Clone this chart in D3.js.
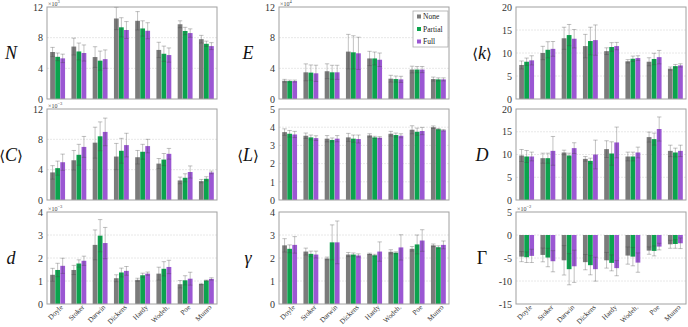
<!DOCTYPE html>
<html><head><meta charset="utf-8">
<script src="https://cdn.jsdelivr.net/npm/d3@7"></script>
<style>body{margin:0;background:#fff}svg{display:block}</style>
</head><body>
<svg id="c" width="688" height="327"></svg>
<script>
const categories = ["Doyle","Stoker","Darwin","Dickens","Hardy","Wodeh.","Poe","Munro"];
const seriesNames = ["None","Partial","Full"];
const colors = ["#7b7b7b","#0ca34e","#9b57d3"];

// values [None, Partial, Full] per category; errors are half-widths
const N_val = [[6.13,5.5,5.3],[6.84,6.2,6.0],[5.47,5.0,5.2],[10.5,9.35,9.0],[10.2,9.2,8.9],[6.4,5.9,5.73],[9.75,8.87,8.6],[7.8,7.2,6.9]];
const N_err = [[0.6,0.5,0.55],[1.1,1.1,1.05],[1.35,1.25,1.2],[1.45,1.25,1.1],[1.2,1.0,1.05],[1.0,1.0,0.93],[0.45,0.48,0.55],[0.5,0.35,0.45]];
const E_val = [[2.38,2.34,2.34],[3.48,3.44,3.35],[3.62,3.48,3.48],[6.18,6.09,5.96],[5.29,5.29,5.12],[2.65,2.6,2.56],[3.84,3.84,3.84],[2.6,2.56,2.56]];
const E_err = [[0.18,0.13,0.13],[1.1,1.0,1.06],[0.97,0.92,0.92],[2.25,2.16,2.1],[0.93,0.84,0.88],[0.44,0.4,0.4],[0.44,0.4,0.4],[0.26,0.2,0.2]];
const k_val = [[7.4,8.1,8.4],[10.0,10.7,10.9],[13.2,13.9,13.1],[11.5,12.6,12.8],[10.4,11.3,11.5],[8.2,8.75,8.9],[8.1,8.7,9.1],[6.6,7.15,7.3]];
const k_err = [[0.87,0.8,1.0],[1.45,1.75,1.6],[2.4,2.3,2.0],[2.55,3.0,3.3],[0.73,0.95,0.8],[0.36,0.58,0.5],[0.87,1.24,1.46],[0.36,0.36,0.36]];
const C_val = [[3.64,4.2,4.98],[5.24,5.96,7.0],[7.56,8.4,8.98],[5.73,6.49,7.24],[5.64,6.36,7.11],[4.8,5.33,6.09],[2.58,2.93,3.69],[2.49,2.8,3.64]];
const C_err = [[0.89,0.93,1.07],[1.29,1.38,1.38],[2.04,1.9,1.82],[1.73,1.64,1.56],[0.89,0.98,0.89],[0.67,0.8,0.71],[0.44,0.53,0.8],[0.22,0.27,0.18]];
const L_val = [[3.73,3.64,3.6],[3.53,3.44,3.4],[3.37,3.3,3.37],[3.44,3.37,3.35],[3.55,3.44,3.42],[3.64,3.57,3.53],[3.86,3.75,3.79],[4.0,3.89,3.83]];
const L_err = [[0.18,0.18,0.17],[0.15,0.13,0.13],[0.17,0.11,0.17],[0.22,0.2,0.22],[0.09,0.06,0.06],[0.13,0.11,0.11],[0.22,0.2,0.2],[0.07,0.04,0.04]];
const D_val = [[9.78,9.56,9.56],[9.19,9.19,10.8],[10.44,9.78,11.4],[9.04,8.6,10.0],[11.18,10.22,12.65],[9.56,9.56,10.44],[13.82,13.38,15.6],[10.8,10.44,10.8]];
const D_err = [[1.32,1.32,0.96],[1.1,1.1,3.16],[0.51,0.51,1.18],[0.51,0.59,3.16],[1.84,2.57,3.38],[0.96,0.96,1.18],[1.1,1.32,2.65],[1.25,0.96,1.25]];
const d_val = [[1.27,1.48,1.66],[1.48,1.76,1.88],[2.57,2.97,2.65],[1.12,1.37,1.44],[1.05,1.25,1.32],[1.32,1.53,1.61],[0.86,1.03,1.1],[0.87,1.02,1.09]];
const d_err = [[0.28,0.29,0.33],[0.2,0.16,0.2],[0.65,0.7,0.68],[0.15,0.19,0.19],[0.07,0.09,0.07],[0.28,0.31,0.29],[0.16,0.2,0.28],[0.03,0.02,0.05]];
const g_val = [[2.55,2.4,2.57],[2.28,2.18,2.15],[1.98,2.68,2.68],[2.15,2.15,2.11],[2.18,2.12,2.28],[2.27,2.23,2.46],[2.4,2.59,2.76],[2.55,2.47,2.57]];
const g_err = [[0.29,0.17,0.36],[0.15,0.12,0.15],[0.06,0.76,0.93],[0.09,0.07,0.07],[0.03,0.04,0.42],[0.09,0.04,0.55],[0.1,0.41,0.47],[0.06,0.06,0.17]];
const G_val = [[-4.7,-4.83,-4.54],[-4.33,-4.9,-5.7],[-5.5,-7.43,-6.8],[-5.9,-6.56,-7.43],[-5.5,-6.06,-7.2],[-4.47,-4.7,-6.0],[-3.39,-3.46,-2.52],[-2.02,-1.95,-1.8]];
const G_err = [[1.1,1.15,1.44],[1.5,2.0,2.3],[3.2,3.4,3.5],[1.66,2.1,2.6],[1.7,1.73,1.66],[1.87,2.0,2.1],[0.8,1.08,0.72],[0.87,0.94,1.15]];

const N_ticks = [0,4,8,12], E_ticks = [0,4,8,12], k_ticks = [0,5,10,15,20];
const C_ticks = [0,4,8,12], L_ticks = [0,1,2,3,4,5], D_ticks = [0,5,10,15,20];
const d_ticks = [0,1,2,3,4], g_ticks = [0,1,2,3,4], G_ticks = [-15,-10,-5,0,5];

const panels = [
  {label:["","N",""], val:N_val, err:N_err, ticks:N_ticks, exp:"3"},
  {label:["","E",""], val:E_val, err:E_err, ticks:E_ticks, exp:"4", legend:true},
  {label:["⟨","k","⟩"], val:k_val, err:k_err, ticks:k_ticks},
  {label:["⟨","C","⟩"], val:C_val, err:C_err, ticks:C_ticks, exp:"−3"},
  {label:["⟨","L","⟩"], val:L_val, err:L_err, ticks:L_ticks},
  {label:["","D",""], val:D_val, err:D_err, ticks:D_ticks},
  {label:["","d",""], val:d_val, err:d_err, ticks:d_ticks, exp:"−3", xlab:true},
  {label:["","γ",""], val:g_val, err:g_err, ticks:g_ticks, xlab:true},
  {label:["","Γ",""], val:G_val, err:G_err, ticks:G_ticks, exp:"−2", xlab:true, upright:true}
];

const colX = [47, 279, 516], colW = 170;
const rowY = [7, 109, 212], rowH = [92, 91, 92];
const labX = [11, 248, 482];
const svg = d3.select("#c");
const serif = "'Liberation Serif','DejaVu Serif',serif";

panels.forEach((p, i) => {
  const c = i % 3, r = Math.floor(i / 3);
  const x0 = colX[c], y0 = rowY[r], h = rowH[r];
  const g = svg.append("g").attr("transform", `translate(${x0},${y0})`);
  const y = d3.scaleLinear().domain(d3.extent(p.ticks)).range([h, 0]);
  const x = d3.scaleBand().domain(categories).range([0, colW]).paddingInner(0.3).paddingOuter(0.15);
  const xs = d3.scaleBand().domain(seriesNames).range([0, x.bandwidth()]).paddingInner(0.06);

  g.selectAll(".grid").data(p.ticks.slice(1, -1)).join("line")
    .attr("x1", 0).attr("x2", colW).attr("y1", d => y(d)).attr("y2", d => y(d))
    .attr("stroke", "#e2e2e2").attr("stroke-width", 0.8).attr("stroke-dasharray", "2,1");

  const base = y(0);
  categories.forEach((cat, ci) => {
    seriesNames.forEach((s, si) => {
      const v = p.val[ci][si], e = p.err[ci][si];
      const bx = x(cat) + xs(s), bw = xs.bandwidth();
      g.append("rect").attr("x", bx).attr("width", bw)
        .attr("y", Math.min(y(v), base)).attr("height", Math.abs(y(v) - base))
        .attr("fill", colors[si]);
      const cx = bx + bw / 2;
      const eg = g.append("g").attr("stroke", "rgba(70,70,70,0.33)").attr("stroke-width", 1);
      eg.append("line").attr("x1", cx).attr("x2", cx).attr("y1", y(v - e)).attr("y2", y(v + e));
      eg.append("line").attr("x1", cx - 2.2).attr("x2", cx + 2.2).attr("y1", y(v + e)).attr("y2", y(v + e));
      eg.append("line").attr("x1", cx - 2.2).attr("x2", cx + 2.2).attr("y1", y(v - e)).attr("y2", y(v - e));
    });
  });

  g.append("rect").attr("x", 0).attr("y", 0).attr("width", colW).attr("height", h)
    .attr("fill", "none").attr("stroke", "#a0a0a0").attr("stroke-width", 1);

  const ax = g.append("g").call(d3.axisLeft(y).tickValues(p.ticks).tickSize(3).tickFormat(d3.format("d")));
  ax.select(".domain").remove();
  ax.selectAll("line").attr("stroke", "#a0a0a0").attr("x2", 0);
  ax.selectAll("text").attr("font-family", serif).attr("font-size", 10).attr("fill", "#333").attr("x", -4)
    .text(d => d < 0 ? "-" + Math.abs(d) : d);

  if (p.exp) {
    const t = g.append("text").attr("x", 1).attr("y", -1.5).attr("font-family", serif).attr("font-size", 6).attr("fill", "#444");
    t.append("tspan").text("×10");
    t.append("tspan").attr("dy", -2.5).attr("font-size", 4.5).text(p.exp);
  }

  const lt = svg.append("text").attr("x", labX[c]).attr("y", y0 + h / 2 + 6)
    .attr("text-anchor", "middle").attr("font-family", serif).attr("font-size", 18).attr("fill", "#111");
  if (p.label[0]) lt.append("tspan").attr("font-size", 15).text(p.label[0]);
  lt.append("tspan").attr("font-style", p.upright ? "normal" : "italic").text(p.label[1]);
  if (p.label[2]) lt.append("tspan").attr("font-size", 15).text(p.label[2]);

  if (p.xlab) {
    categories.forEach(cat => {
      const cx = x(cat) + x.bandwidth() / 2 + 4, cy = h + 2;
      g.append("text").attr("transform", `translate(${cx},${cy}) rotate(-45)`)
        .attr("text-anchor", "end").attr("dy", "0.35em").attr("font-family", serif)
        .attr("font-size", 7.2).attr("fill", "#333").text(cat);
    });
  }

  if (p.legend) {
    const lx = 413 - x0, ly = 11 - y0;
    const lg = g.append("g").attr("transform", `translate(${lx},${ly})`);
    lg.append("rect").attr("width", 35).attr("height", 36).attr("fill", "#fff").attr("stroke", "#aaa").attr("stroke-width", 0.8);
    seriesNames.forEach((s, si) => {
      const yy = 5.5 + si * 12.5;
      lg.append("rect").attr("x", 4).attr("y", yy - 2).attr("width", 4).attr("height", 4).attr("fill", colors[si]);
      lg.append("text").attr("x", 10).attr("y", yy).attr("dy", "0.35em").attr("font-family", serif)
        .attr("font-size", 7.5).attr("fill", "#222").text(s);
    });
  }
});
</script>
</body></html>
